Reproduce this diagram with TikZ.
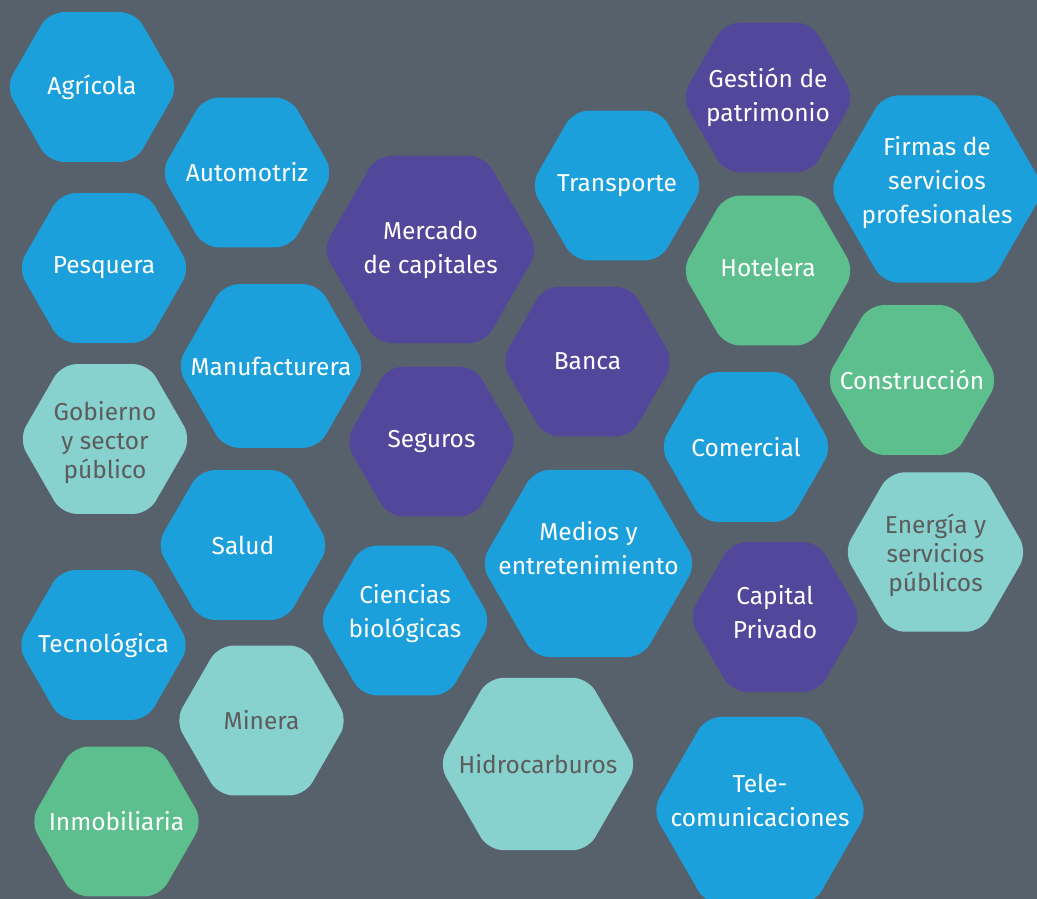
\documentclass[tikz,border=0pt]{standalone}
\usepackage{fontspec}
\setmainfont{Fira Sans}
\usetikzlibrary{shapes.geometric}

\definecolor{fondo}{HTML}{57616B}
\definecolor{azul}{HTML}{1BA0DB}
\definecolor{morado}{HTML}{53479B}
\definecolor{verde}{HTML}{5CBF8D}
\definecolor{turquesa}{HTML}{87D1CE}
\definecolor{gristexto}{HTML}{5C5C5C}

\tikzset{
  hex/.style={regular polygon, regular polygon sides=6, rounded corners=15pt,
    inner sep=0pt},
  chico/.style={hex, minimum size=173pt},
  grande/.style={hex, minimum size=216pt},
  texto/.style={align=center, text=white, inner sep=0pt,
    font=\fontsize{24.5}{34}\selectfont},
  textogris/.style={align=center, text=gristexto, inner sep=0pt,
    font=\fontsize{24.5}{29}\selectfont},
  azulhex/.style={fill=azul},
  moradohex/.style={fill=morado},
  verdehex/.style={fill=verde},
  claro/.style={fill=turquesa}
}

\begin{document}
\begin{tikzpicture}[x=1pt,y=-1pt]
  \useasboundingbox (0,0) rectangle (1037,899);
  \clip (0,0) rectangle (1037,899);
  \fill[fondo] (0,0) rectangle (1037,899);

  % columna izquierda
  \node[chico,azulhex,label={[texto]center:Agrícola}] (agricola) at (92,87) {};
  \node[chico,azulhex,label={[texto]center:Pesquera}] (pesquera) at (104,268) {};
  \node[chico,claro,label={[textogris,yshift=-4pt]center:{Gobierno\\y sector\\público}}] (gobierno) at (105,439) {};
  \node[chico,azulhex,label={[texto]center:Tecnológica}] (tecnologica) at (103.5,645) {};
  \node[chico,verdehex,label={[texto]center:Inmobiliaria}] (inmobiliaria) at (116.5,821.5) {};

  \node[chico,azulhex,label={[texto]center:Automotriz}] (automotriz) at (247,172.5) {};
  \node[hex,minimum size=189pt,azulhex,label={[texto]center:Manufacturera}] (manufacturera) at (271,366) {};
  \node[chico,azulhex,label={[texto]center:Salud}] (salud) at (243,545) {};
  \node[chico,claro,label={[textogris]center:Minera}] (minera) at (261.5,720.5) {};

  % centro
  \node[grande,moradohex,label={[texto]center:{Mercado\\de capitales}}] (mercado) at (430.5,249.5) {};
  \node[chico,moradohex,label={[texto]center:Seguros}] (seguros) at (431.5,441.5) {};
  \node[chico,azulhex,label={[texto,yshift=7pt]center:{Ciencias\\biológicas}}] (ciencias) at (405,620.5) {};

  \node[chico,azulhex,label={[texto]center:Transporte}] (transporte) at (617,185.5) {};
  \node[chico,moradohex,label={[texto]center:Banca}] (banca) at (587.5,361.5) {};
  \node[grande,azulhex,label={[texto,yshift=15pt]center:{Medios y\\entretenimiento}}] (medios) at (588.5,563.5) {};
  \node[hex,minimum size=199pt,claro,label={[textogris]center:Hidrocarburos}] (hidrocarburos) at (538,764) {};

  % derecha
  \node[chico,moradohex,label={[texto]center:{Gestión de\\patrimonio}}] (gestion) at (768,97.5) {};
  \node[chico,verdehex,label={[texto,yshift=3pt]center:Hotelera}] (hotelera) at (768,270.5) {};
  \node[chico,azulhex,label={[texto]center:Comercial}] (comercial) at (746,447) {};
  \node[chico,moradohex,label={[texto,yshift=5pt]center:{Capital\\Privado}}] (capital) at (775,617) {};
  \node[grande,azulhex,label={[texto,yshift=10pt]center:{Tele-\\comunicaciones}}] (telecom) at (760,810.5) {};

  \node[grande,azulhex,label={[texto,yshift=6pt]center:{Firmas de\\servicios\\profesionales}}] (firmas) at (937,189) {};
  \node[chico,verdehex,label={[texto]center:Construcción}] (construccion) at (912,380) {};
  \node[hex,minimum size=184pt,claro,label={[textogris,yshift=-3pt]center:{Energía y\\servicios\\públicos}}] (energia) at (935.5,552) {};
\end{tikzpicture}
\end{document}
